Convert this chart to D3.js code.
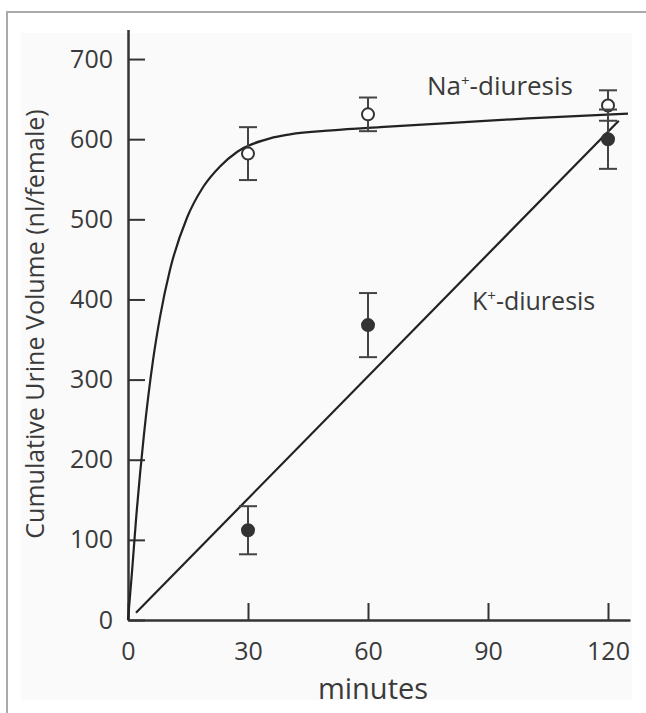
<!DOCTYPE html>
<html>
<head>
<meta charset="utf-8">
<script src="https://cdn.jsdelivr.net/npm/d3@7/dist/d3.min.js"></script>
<style>
  html, body { margin: 0; padding: 0; background: #ffffff; }
  svg { display: block; }
  text { font-family: "Open Sans", "Noto Sans", sans-serif; fill: #3a3a3a; }
</style>
</head>
<body>
<svg id="chart" width="646" height="713"></svg>
<script>
// Sampling times (minutes) and measured cumulative urine volume (nl/female)
const minutes = [30, 60, 120];
const naMean = [582, 631, 642];
const naErr = [33, 21, 19];
const kMean = [112, 368, 600];
const kErr = [30, 40, 37];

// Fitted curves
const naCurveT = [0, 1, 2, 4, 6.25, 8, 10.5, 14.75, 18.75, 23, 27.25, 35.5, 40.5, 51, 63, 80, 100, 125];
const naCurveV = [0, 60, 125, 232, 324, 378, 437, 502, 540, 566, 584, 601, 606, 611, 615, 620, 626, 632];
const kLineT = [2, 122.7];
const kLineV = [9, 623];

// Axis ticks
const xTicks = [0, 30, 60, 90, 120];
const yTicks = [0, 100, 200, 300, 400, 500, 600, 700];

const svg = d3.select("#chart");
const ink = "#333333";

// Frame and panel background
svg.append("rect").attr("x", 21).attr("y", 33).attr("width", 611).attr("height", 667)
  .attr("fill", "#fafafa");
svg.append("path").attr("d", "M7,713 L7,12 L646,12")
  .attr("fill", "none").attr("stroke", "#aaaaaa").attr("stroke-width", 2);

const x = d3.scaleLinear().domain([0, 125.5]).range([128, 630]);
const y = d3.scaleLinear().domain([0, 737]).range([620, 29.4]);

// Axes with inward ticks
const xAxis = d3.axisBottom(x).tickValues(xTicks).tickSizeInner(-17).tickSizeOuter(0).tickPadding(22);
const yAxis = d3.axisLeft(y).tickValues(yTicks).tickSizeInner(-17).tickSizeOuter(0).tickPadding(15);

const gx = svg.append("g").attr("transform", `translate(0,${y(0)})`).call(xAxis);
const gy = svg.append("g").attr("transform", `translate(${x(0)},0)`).call(yAxis);
[gx, gy].forEach(g => {
  g.select(".domain").attr("stroke", ink).attr("stroke-width", 2.5);
  g.selectAll(".tick line").attr("stroke", ink).attr("stroke-width", 2);
  g.selectAll(".tick text").attr("font-size", 25).attr("fill", "#3a3a3a")
    .attr("font-family", "\"Open Sans\", sans-serif");
});

// Axis titles
svg.append("text").attr("x", 373).attr("y", 699).attr("text-anchor", "middle")
  .attr("font-size", 29).text("minutes");
svg.append("text").attr("transform", "translate(44,324) rotate(-90)")
  .attr("text-anchor", "middle").attr("font-size", 25)
  .text("Cumulative Urine Volume (nl/female)");

// Fitted curves
const line = d3.line().x(d => x(d[0])).y(d => y(d[1]));
svg.append("path").datum(naCurveT.map((t, i) => [t, naCurveV[i]]))
  .attr("d", line.curve(d3.curveMonotoneX))
  .attr("fill", "none").attr("stroke", "#222").attr("stroke-width", 2.2);
svg.append("path").datum(kLineT.map((t, i) => [t, kLineV[i]]))
  .attr("d", d3.line().x(d => x(d[0])).y(d => y(d[1])))
  .attr("fill", "none").attr("stroke", "#222").attr("stroke-width", 2.2);

// Error bars and markers
function series(means, errs, filled) {
  const g = svg.append("g");
  const pts = minutes.map((t, i) => ({ t, m: means[i], e: errs[i] }));
  const bars = g.selectAll(".bar").data(pts).enter().append("g");
  bars.append("line").attr("x1", d => x(d.t)).attr("x2", d => x(d.t))
    .attr("y1", d => y(d.m - d.e)).attr("y2", d => y(d.m + d.e));
  bars.append("line").attr("x1", d => x(d.t) - 9).attr("x2", d => x(d.t) + 9)
    .attr("y1", d => y(d.m + d.e)).attr("y2", d => y(d.m + d.e));
  bars.append("line").attr("x1", d => x(d.t) - 9).attr("x2", d => x(d.t) + 9)
    .attr("y1", d => y(d.m - d.e)).attr("y2", d => y(d.m - d.e));
  bars.selectAll("line").attr("stroke", "#444").attr("stroke-width", 2);
  g.selectAll("circle").data(pts).enter().append("circle")
    .attr("cx", d => x(d.t)).attr("cy", d => y(d.m)).attr("r", 6)
    .attr("fill", filled ? "#333" : "#ffffff")
    .attr("stroke", "#333").attr("stroke-width", 2);
}
series(naMean, naErr, false);
series(kMean, kErr, true);

// Curve labels
const naLabel = svg.append("text").attr("x", 427).attr("y", 95).attr("font-size", 26);
naLabel.append("tspan").text("Na");
naLabel.append("tspan").attr("font-size", 15).attr("dy", -9).text("+");
naLabel.append("tspan").attr("dy", 9).text("-diuresis");

const kLabel = svg.append("text").attr("x", 472).attr("y", 310).attr("font-size", 25);
kLabel.append("tspan").text("K");
kLabel.append("tspan").attr("font-size", 15).attr("dy", -9).text("+");
kLabel.append("tspan").attr("dy", 9).text("-diuresis");
</script>
</body>
</html>
